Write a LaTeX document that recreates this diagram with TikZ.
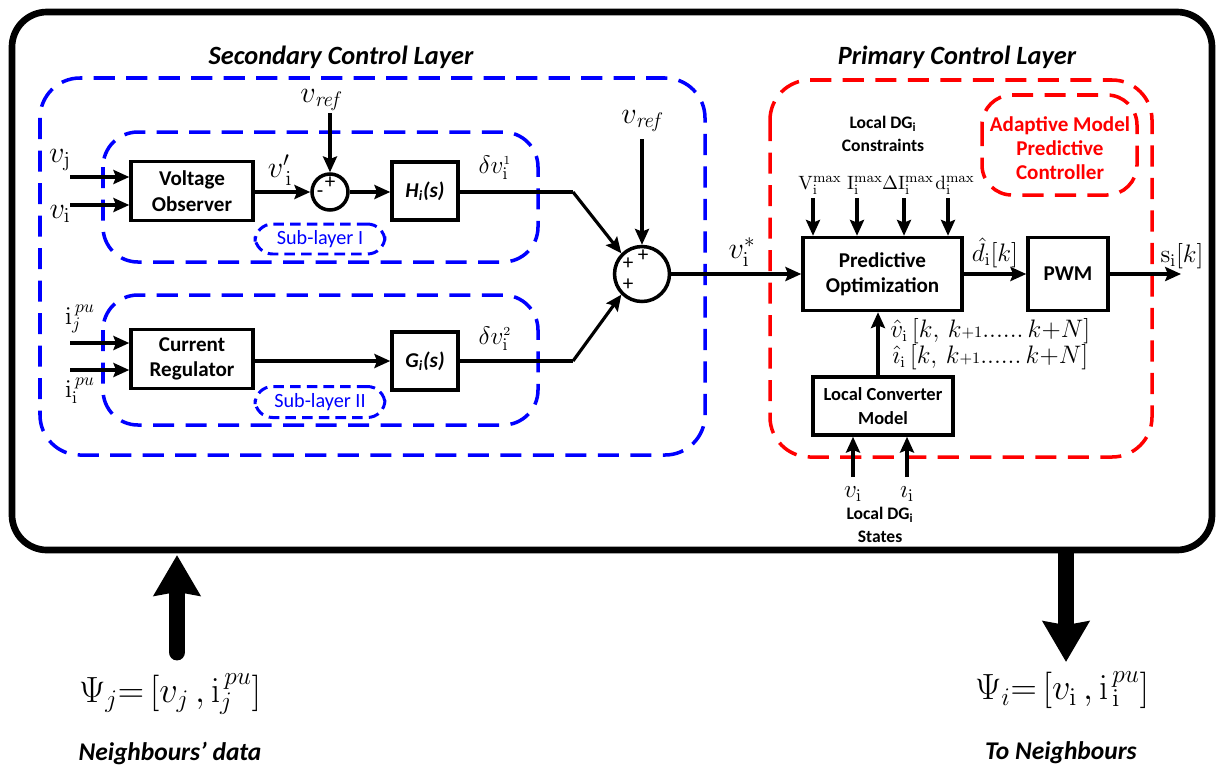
\documentclass[tikz,border=0pt]{standalone}
\usepackage[no-math]{fontspec}
\setmainfont{Carlito}
\usetikzlibrary{arrows.meta}
\tikzset{
  blk/.style={draw, line width=2pt, align=center, inner sep=0pt,
    font=\bfseries\fontsize{12}{14.5}\selectfont},
  sumnode/.style={draw, circle, line width=2pt, inner sep=0pt},
  wire/.style={line width=1.8pt},
  arr/.style={wire, -{Stealth[length=9pt,width=8pt,inset=1.5pt]}},
  bigarr/.style={line width=9.6pt, -{Stealth[length=23pt,width=26pt,inset=2pt]}},
  bluezone/.style={draw=blue, line width=2pt, dash pattern=on 12pt off 6.5pt},
  redzone/.style={draw=red, line width=2pt, dash pattern=on 12pt off 6.5pt},
  sym/.style={inner sep=0pt, font=\fontsize{17}{20}\selectfont},
  symsm/.style={inner sep=0pt, font=\fontsize{14}{16}\selectfont},
  cons/.style={inner sep=0pt, anchor=base, font=\fontsize{11}{13}\selectfont},
  sgn/.style={inner sep=0pt, font=\fontsize{12}{12}\selectfont},
  heading/.style={inner sep=0pt, font=\bfseries\itshape\fontsize{15}{18}\selectfont},
  caption/.style={inner sep=0pt, align=center, font=\bfseries\fontsize{10}{13}\selectfont},
  sublabel/.style={draw=blue, text=blue, line width=1.7pt, dash pattern=on 6pt off 3.5pt,
    rounded corners=10pt, inner sep=0pt, font=\fontsize{11.5}{13}\selectfont},
}
\begin{document}
\begin{tikzpicture}[x=0.02cm, y=-0.02cm]
\useasboundingbox (0,0) rectangle (1220,775);

% outer frame of the controller
\draw[line width=3.8pt, rounded corners=0.7cm] (12,12) rectangle (1212,550);

% layer headings
\node[heading] (secT) at (341,57) {Secondary Control Layer};
\node[heading] (priT) at (957,57) {Primary Control Layer};

% dashed zones
\draw[bluezone, rounded corners=0.8cm] (40,78) rectangle (705,455);
\draw[bluezone, rounded corners=0.7cm] (103,132) rectangle (538,262);
\draw[bluezone, rounded corners=0.7cm] (103,295) rectangle (538,425);
\draw[redzone, rounded corners=0.8cm] (770,80) rectangle (1152,457);
\draw[redzone, rounded corners=0.6cm] (982,95) rectangle (1137,195);

% secondary layer blocks
\node[blk, minimum width=2.44cm, minimum height=1.18cm] (VO) at (192,191) {Voltage\\Observer};
\node[sumnode, minimum size=0.72cm] (S1) at (330,192) {};
\node[blk, minimum width=1.32cm, minimum height=1.16cm, font=\bfseries\itshape\fontsize{12}{14}\selectfont] (H) at (425,191) {H\textsubscript{i}(s)};
\node[blk, minimum width=2.44cm, minimum height=1.18cm] (CR) at (192,359) {Current\\Regulator};
\node[blk, minimum width=1.32cm, minimum height=1.16cm, font=\bfseries\itshape\fontsize{12}{14}\selectfont] (G) at (425,361) {G\textsubscript{i}(s)};
\node[sumnode, minimum size=1.1cm] (S2) at (642,274) {};

\node[sublabel, minimum width=2.6cm, minimum height=0.6cm] (sub1) at (320,239) {Sub-layer I};
\node[sublabel, minimum width=2.6cm, minimum height=0.62cm] (sub2) at (320,402) {Sub-layer II};

% signs at the summing junctions
\node[sgn] (p1) at (330,183) {+};
\node[sgn] (m1) at (320,194) {-};
\node[sgn] (p2) at (643,256) {+};
\node[sgn] (p3) at (628,264) {+};
\node[sgn] (p4) at (628,285) {+};

% input signals
\node[sym] (vj) at (60,160) {$v_{\mathrm{j}}$};
\node[sym] (vi) at (60,214) {$v_{\mathrm{i}}$};
\node[symsm] (ijpu) at (80,319) {$\mathrm{i}_{j}^{\,pu}$};
\node[symsm] (iipu) at (80,391) {$\mathrm{i}_{\mathrm{i}}^{\,pu}$};
\coordinate (vjIn) at (70,177);
\coordinate (viIn) at (70,205);
\coordinate (ijIn) at (70,343);
\coordinate (iiIn) at (70,370);
\draw[arr] (vjIn) -- (vjIn -| VO.west);
\draw[arr] (viIn) -- (viIn -| VO.west);
\draw[arr] (ijIn) -- (ijIn -| CR.west);
\draw[arr] (iiIn) -- (iiIn -| CR.west);

% reference voltages
\node[sym] (vref1) at (322,100) {$v_{\mathit{ref}}$};
\coordinate (vref1Out) at (330,113);
\draw[arr] (vref1Out) -- (S1.north);
\node[sym] (vref2) at (643,121) {$v_{\mathit{ref}}$};
\coordinate (vref2Out) at (642,139);
\draw[arr] (vref2Out) -- (S2.north);

% secondary signal flow
\node[sym] (vprime) at (280,170) {$v'_{\,\mathrm{i}}$};
\draw[arr] (VO.east |- S1.west) -- (S1.west);
\draw[arr] (S1.east) -- (H.west |- S1.east);
\draw[arr] (CR.east |- G.west) -- (G.west);
\node[symsm] (dv1) at (495,168) {$\delta v^{\scriptscriptstyle 1}_{\mathrm{i}}$};
\node[symsm] (dv2) at (495,339) {$\delta v^{\scriptscriptstyle 2}_{\mathrm{i}}$};
\coordinate (bend1) at (573,192);
\coordinate (bend2) at (573,361);
\draw[wire] (H.east |- bend1) -- (bend1);
\draw[arr] (bend1) -- (S2.135);
\draw[wire] (G.east |- bend2) -- (bend2);
\draw[arr] (bend2) -- (S2.225);

% primary layer blocks
\node[blk, minimum width=3.18cm, minimum height=1.46cm] (PO) at (882.5,274) {Predictive\\Optimization};
\node[blk, minimum width=1.6cm, minimum height=1.46cm] (PWM) at (1068,274) {PWM};
\node[blk, minimum width=2.8cm, minimum height=1.16cm, font=\bfseries\fontsize{10.5}{14}\selectfont] (LCM) at (883,406) {Local Converter\\Model};

\node[sym] (vstar) at (742,252) {$v_{\mathrm{i}}^{*}$};
\draw[arr] (S2.east) -- (PO.west |- S2.east);

\node[caption] (consT) at (883,134) {Local DG\textsubscript{i}\\Constraints};
\node[inner sep=0pt, font=\bfseries\fontsize{12}{13.5}\selectfont, text=red, align=center] (ampc) at (1060,148) {Adaptive Model\\Predictive\\Controller};

% constraint inputs
\node[cons] (cV) at (820,189) {$\mathrm{V}_{\mathrm{i}}^{\mathrm{max}}$};
\node[cons] (cI) at (865,189) {$\mathrm{I}_{\mathrm{i}}^{\mathrm{max}}$};
\node[cons] (cdI) at (908,189) {$\Delta\mathrm{I}_{\mathrm{i}}^{\mathrm{max}}$};
\node[cons] (cd) at (955,189) {$\mathrm{d}_{\mathrm{i}}^{\mathrm{max}}$};
\coordinate (c1) at (813,198);
\coordinate (c2) at (857,198);
\coordinate (c3) at (904,198);
\coordinate (c4) at (948,198);
\draw[arr] (c1) -- (c1 |- PO.north);
\draw[arr] (c2) -- (c2 |- PO.north);
\draw[arr] (c3) -- (c3 |- PO.north);
\draw[arr] (c4) -- (c4 |- PO.north);

% duty cycle and switching signal
\node[symsm] (dhat) at (995,253) {$\hat{d}_{\mathrm{i}}[k]$};
\draw[arr] (PO.east) -- (PWM.west);
\node[symsm] (sik) at (1182,256) {$\mathrm{s}_{\mathrm{i}}[k]$};
\coordinate (sOut) at (1181,274);
\draw[arr] (PWM.east) -- (sOut);

% model predictions
\draw[arr] (LCM.north -| 878,0) -- (PO.south -| 878,0);
\node[inner sep=0pt, anchor=west, font=\fontsize{13.5}{15}\selectfont] (pv) at (890,331) {$\hat{v}_{\mathrm{i}}\,[k,\,k{\scriptstyle+1}......\,k{+}N]$};
\node[inner sep=0pt, anchor=west, font=\fontsize{13.5}{15}\selectfont] (pi) at (892,357) {$\hat{\imath}_{\mathrm{i}}\,[k,\,k{\scriptstyle+1}......\,k{+}N]$};

% local measured states
\coordinate (lv) at (853,477);
\coordinate (li) at (907,477);
\draw[arr] (lv) -- (lv |- LCM.south);
\draw[arr] (li) -- (li |- LCM.south);
\node[symsm] (lvl) at (853,494) {$v_{\mathrm{i}}$};
\node[symsm] (lil) at (907,494) {$\imath_{\mathrm{i}}$};
\node[caption] (states) at (880,525) {Local DG\textsubscript{i}\\States};

% data exchange with neighbours
\coordinate (nbTail) at (177,652);
\coordinate (frameIn) at (177,555);
\draw[bigarr, line cap=round] (nbTail) -- (frameIn);
\coordinate (frameOut) at (1066,550);
\coordinate (nbTip) at (1066,662);
\draw[bigarr] (frameOut) -- (nbTip);

\node[inner sep=0pt, font=\fontsize{20}{24}\selectfont] (psij) at (170,694) {$\Psi_{j}{=}\,\bigl[v_{j}\,,\mathrm{i}_{j}^{\,pu}\bigr]$};
\node[inner sep=0pt, font=\fontsize{20}{24}\selectfont] (psii) at (1062,690) {$\Psi_{i}{=}\,\bigl[v_{\mathrm{i}}\,,\mathrm{i}_{\,\mathrm{i}}^{\,pu}\bigr]$};
\node[inner sep=0pt, font=\bfseries\itshape\fontsize{14.5}{17}\selectfont] (nbd) at (170,753) {Neighbours' data};
\node[inner sep=0pt, font=\bfseries\itshape\fontsize{14.5}{17}\selectfont] (tnb) at (1061,753) {To Neighbours};
\end{tikzpicture}
\end{document}
